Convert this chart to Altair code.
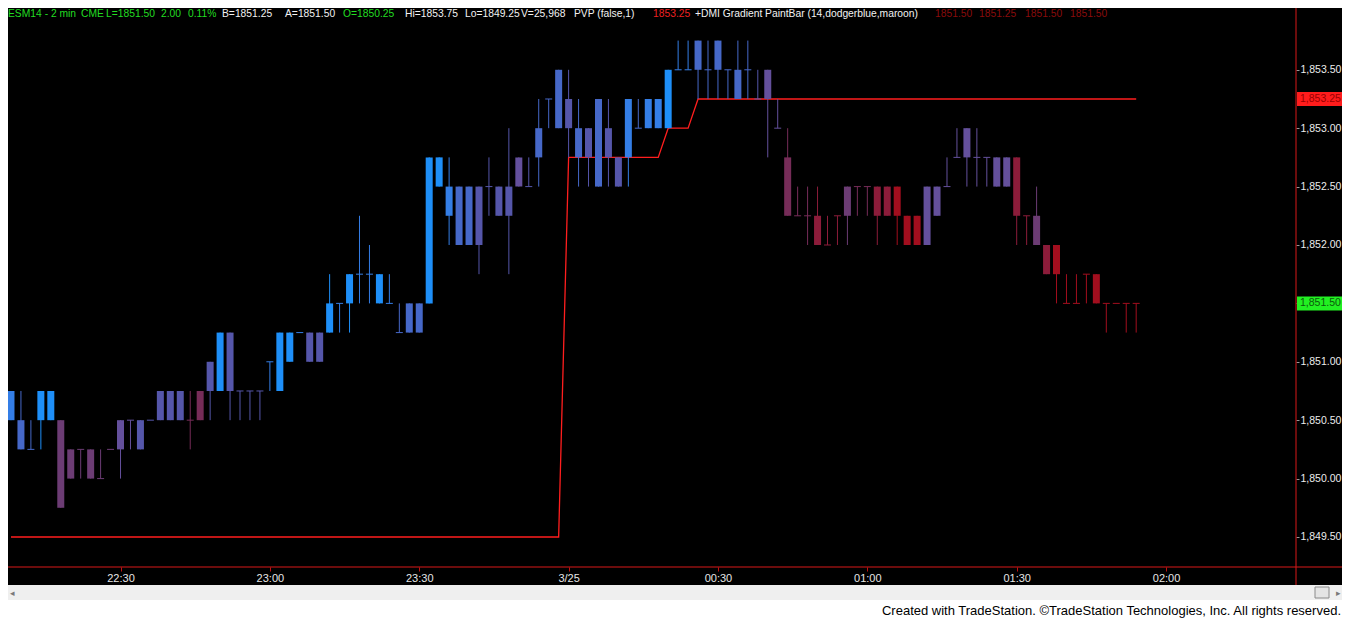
import json
import altair as alt
import pandas as pd

# ---------------- data (ESM14, 2-min bars, 22:08 -> 01:54) ----------------
opens = [
    1850.50, 1850.50, 1850.25, 1850.50, 1850.50, 1850.50, 1850.25, 1850.25, 1850.00, 1850.00,
    1850.25, 1850.25, 1850.50, 1850.25, 1850.50, 1850.50, 1850.75, 1850.50, 1850.50, 1850.75,
    1850.75, 1850.75, 1851.25, 1850.75, 1850.75, 1850.75, 1851.00, 1850.75, 1851.00, 1851.25,
    1851.25, 1851.00, 1851.25, 1851.50, 1851.50, 1851.75, 1851.75, 1851.75, 1851.50, 1851.25,
    1851.25, 1851.50, 1851.50, 1852.75, 1852.50, 1852.50, 1852.00, 1852.50, 1852.50, 1852.25,
    1852.50, 1852.50, 1852.50, 1852.75, 1853.25, 1853.00, 1853.25, 1853.00, 1852.75, 1852.50,
    1853.00, 1852.75, 1852.75, 1853.00, 1853.00, 1853.25, 1853.00, 1853.50, 1853.50, 1853.50,
    1853.50, 1853.75, 1853.50, 1853.25, 1853.50, 1853.25, 1853.50, 1853.00, 1852.75, 1852.25,
    1852.25, 1852.25, 1852.00, 1852.25, 1852.25, 1852.50, 1852.50, 1852.50, 1852.25, 1852.50,
    1852.25, 1852.25, 1852.00, 1852.25, 1852.50, 1852.75, 1852.75, 1852.75, 1852.75, 1852.75,
    1852.50, 1852.75, 1852.25, 1852.25, 1852.00, 1852.00, 1851.50, 1851.50, 1851.75, 1851.75,
    1851.50, 1851.50, 1851.50, 1851.50,
]
highs = [
    1850.75, 1850.75, 1850.50, 1850.75, 1850.75, 1850.50, 1850.25, 1850.25, 1850.25, 1850.25,
    1850.25, 1850.50, 1850.50, 1850.50, 1850.50, 1850.75, 1850.75, 1850.75, 1850.75, 1850.75,
    1851.00, 1851.25, 1851.25, 1850.75, 1850.75, 1850.75, 1851.00, 1851.25, 1851.25, 1851.25,
    1851.25, 1851.25, 1851.75, 1851.50, 1851.75, 1852.25, 1852.00, 1851.75, 1851.75, 1851.50,
    1851.50, 1851.50, 1852.75, 1852.75, 1852.75, 1852.50, 1852.50, 1852.50, 1852.75, 1852.50,
    1853.00, 1852.75, 1852.75, 1853.25, 1853.25, 1853.50, 1853.50, 1853.25, 1853.00, 1853.25,
    1853.25, 1852.75, 1853.25, 1853.25, 1853.25, 1853.25, 1853.50, 1853.75, 1853.75, 1853.75,
    1853.75, 1853.75, 1853.50, 1853.75, 1853.75, 1853.50, 1853.50, 1853.25, 1853.00, 1852.50,
    1852.50, 1852.50, 1852.25, 1852.25, 1852.50, 1852.50, 1852.50, 1852.50, 1852.50, 1852.50,
    1852.25, 1852.25, 1852.50, 1852.50, 1852.75, 1853.00, 1853.00, 1853.00, 1852.75, 1852.75,
    1852.75, 1852.75, 1852.25, 1852.50, 1852.00, 1852.00, 1851.75, 1851.75, 1851.75, 1851.75,
    1851.50, 1851.50, 1851.50, 1851.50,
]
lows = [
    1850.50, 1850.25, 1850.25, 1850.25, 1850.50, 1849.75, 1850.00, 1850.00, 1850.00, 1850.00,
    1850.25, 1850.00, 1850.25, 1850.25, 1850.50, 1850.50, 1850.50, 1850.50, 1850.25, 1850.50,
    1850.50, 1850.75, 1850.50, 1850.50, 1850.50, 1850.50, 1850.75, 1850.75, 1851.00, 1851.25,
    1851.00, 1851.00, 1851.25, 1851.25, 1851.25, 1851.50, 1851.50, 1851.50, 1851.50, 1851.25,
    1851.25, 1851.25, 1851.50, 1852.50, 1852.00, 1852.00, 1852.00, 1851.75, 1852.25, 1852.25,
    1851.75, 1852.50, 1852.50, 1852.50, 1853.00, 1853.00, 1852.75, 1852.50, 1852.50, 1852.50,
    1852.50, 1852.50, 1852.50, 1853.00, 1853.00, 1853.00, 1853.00, 1853.50, 1853.50, 1853.25,
    1853.25, 1853.25, 1853.25, 1853.25, 1853.25, 1853.25, 1852.75, 1853.00, 1852.25, 1852.25,
    1852.00, 1852.00, 1852.00, 1852.00, 1852.00, 1852.25, 1852.25, 1852.00, 1852.25, 1852.00,
    1852.00, 1852.00, 1852.00, 1852.25, 1852.50, 1852.75, 1852.50, 1852.50, 1852.50, 1852.50,
    1852.50, 1852.00, 1852.00, 1852.00, 1851.75, 1851.50, 1851.50, 1851.50, 1851.50, 1851.50,
    1851.25, 1851.50, 1851.25, 1851.25,
]
closes = [
    1850.75, 1850.25, 1850.25, 1850.75, 1850.75, 1849.75, 1850.00, 1850.25, 1850.25, 1850.00,
    1850.25, 1850.50, 1850.50, 1850.50, 1850.50, 1850.75, 1850.50, 1850.75, 1850.50, 1850.50,
    1851.00, 1851.25, 1850.75, 1850.75, 1850.75, 1850.75, 1851.00, 1851.25, 1851.25, 1851.25,
    1851.00, 1851.25, 1851.50, 1851.50, 1851.75, 1851.75, 1851.75, 1851.50, 1851.50, 1851.25,
    1851.50, 1851.25, 1852.75, 1852.50, 1852.25, 1852.00, 1852.50, 1852.00, 1852.50, 1852.50,
    1852.25, 1852.75, 1852.50, 1853.00, 1853.25, 1853.50, 1853.00, 1852.75, 1853.00, 1853.25,
    1852.75, 1852.50, 1853.25, 1853.00, 1853.25, 1853.00, 1853.50, 1853.50, 1853.50, 1853.75,
    1853.50, 1853.50, 1853.50, 1853.50, 1853.50, 1853.25, 1853.25, 1853.00, 1852.25, 1852.25,
    1852.25, 1852.00, 1852.00, 1852.25, 1852.50, 1852.50, 1852.50, 1852.25, 1852.50, 1852.25,
    1852.00, 1852.00, 1852.50, 1852.50, 1852.50, 1852.75, 1853.00, 1852.75, 1852.75, 1852.50,
    1852.75, 1852.25, 1852.25, 1852.00, 1851.75, 1851.75, 1851.50, 1851.50, 1851.75, 1851.50,
    1851.50, 1851.50, 1851.50, 1851.50,
]
# DMI gradient step of each bar: 0 = dodgerblue ... 8 = maroon
dmi_level = [
    1, 2, 2, 0, 0, 5, 5, 5, 5, 5,
    5, 4, 4, 3, 3, 3, 3, 3, 6, 6,
    3, 0, 3, 3, 3, 3, 1, 0, 0, 1,
    3, 3, 0, 1, 0, 1, 1, 0, 1, 2,
    2, 2, 0, 0, 1, 2, 2, 3, 3, 3,
    3, 4, 3, 2, 2, 2, 3, 2, 3, 2,
    3, 3, 1, 2, 1, 1, 0, 1, 1, 2,
    2, 2, 2, 2, 2, 3, 4, 4, 6, 6,
    6, 7, 7, 7, 5, 6, 6, 7, 7, 8,
    8, 8, 4, 4, 4, 4, 4, 4, 4, 4,
    4, 7, 7, 5, 7, 8, 8, 8, 8, 8,
    8, 8, 8, 8,
]
# PVP indicator line
pvp = [1849.50] * 56 + [1852.75] * 10 + [1853.00] * 3 + [1853.25] * 45

price_ticks = [1849.5, 1850.0, 1850.5, 1851.0, 1851.5, 1852.0, 1852.5, 1853.0, 1853.5]
time_tick_values = [30, 60, 90, 120, 150, 180, 210, 240]          # minutes after 22:00
time_tick_labels = ["22:30", "23:00", "23:30", "3/25", "00:30", "01:00", "01:30", "02:00"]

last_price = 1851.50
pvp_last = 1853.25

header_texts = ["ESM14 - 2 min", "CME", "L=1851.50", "2.00", "0.11%", "B=1851.25", "A=1851.50",
                "O=1850.25", "Hi=1853.75", "Lo=1849.25", "V=25,968", "PVP (false,1)", "1853.25",
                "+DMI Gradient PaintBar (14,dodgerblue,maroon)", "1851.50", "1851.25", "1851.50", "1851.50"]
footer_text = "Created with TradeStation. \u00a9TradeStation Technologies, Inc. All rights reserved."

# ---------------- layout / style ----------------
GREEN, WHITE, RED, DRED = "#22dd22", "#f2f2f2", "#ee2020", "#8a0c0c"
header_colors = [GREEN, GREEN, GREEN, GREEN, GREEN, WHITE, WHITE, GREEN, WHITE, WHITE, WHITE,
                 WHITE, RED, WHITE, DRED, DRED, DRED, DRED]
header_x = [3, 81, 106, 161, 188, 222, 285, 343, 405, 465, 521, 574, 653, 695, 935, 979, 1025, 1070]

palette = ["#1e8ff8", "#347ee6", "#4668c8", "#5556aa", "#64509c",
           "#6c3c74", "#762c58", "#8c1c3a", "#a20e1e"]

W, H = 1288, 559
RP, BP = 46, 53
FONT = "Liberation Sans"

n = len(opens)
minutes = [8 + 2 * i for i in range(n)]   # bar timestamps: 22:08 + 2 min per bar

df = pd.DataFrame(dict(t=minutes, o=opens, h=highs, l=lows, c=closes, lvl=dmi_level, pvp=pvp))

xscale = alt.Scale(domain=[7.4, 266.1], nice=False, zero=False)
yscale = alt.Scale(domain=[1849.243, 1854.029], nice=False, zero=False)

label_expr = f"{json.dumps(time_tick_labels)}[indexof({json.dumps(time_tick_values)}, datum.value)]"
xaxis = alt.Axis(values=time_tick_values, labelExpr=label_expr, labelColor="#e6e6e6",
                 labelFont=FONT, labelFontSize=11, tickColor="#c01010", tickSize=4,
                 labelPadding=1, domain=False, grid=False, title=None, labelFlush=False)
yaxis = alt.Axis(orient="right", values=price_ticks, format=",.2f", labelColor="#ececec",
                 labelFont=FONT, labelFontSize=10.5, tickColor="#9a9a9a", tickSize=3,
                 labelPadding=1, domain=False, grid=False, title=None)


def X(field):
    return alt.X(field, type="quantitative", scale=xscale, axis=xaxis)


def Y(field):
    return alt.Y(field, type="quantitative", scale=yscale, axis=yaxis)


color = alt.Color("lvl:O", scale=alt.Scale(domain=list(range(9)), range=palette), legend=None)

base = alt.Chart(df)

wicks = base.mark_rule(strokeWidth=1).encode(x=X("t"), y=Y("l"), y2="h:Q", color=color)
bodies = base.transform_filter("datum.o != datum.c").mark_rect(
    xOffset=-3.5, x2Offset=3.5).encode(x=X("t"), x2="t:Q", y=Y("o"), y2="c:Q", color=color)
dojis = base.transform_filter("datum.o == datum.c").mark_rule(
    strokeWidth=1, xOffset=-3.5, x2Offset=3.5).encode(x=X("t"), x2="t:Q", y=Y("o"), color=color)
pvp_line = base.mark_line(color="#ff1e1e", strokeWidth=1.3).encode(x=X("t"), y=Y("pvp"))

one = pd.DataFrame({"a": [0]})
frame_v = alt.Chart(one).mark_rule(color="#d81818", strokeWidth=1).encode(
    x=alt.value(W), y=alt.value(0), y2=alt.value(H + 18))
frame_h = alt.Chart(one).mark_rule(color="#d81818", strokeWidth=1).encode(
    x=alt.value(0), x2=alt.value(W + RP), y=alt.value(H))

marker_df = pd.DataFrame({"p": [pvp_last, last_price],
                          "bg": ["#ff1c1c", "#22f022"],
                          "fg": ["#9a0000", "#0b5a0b"]})
marker_box = alt.Chart(marker_df).mark_rect(yOffset=-7, y2Offset=7).encode(
    x=alt.value(W + 1), x2=alt.value(W + RP), y=Y("p"), y2="p:Q",
    color=alt.Color("bg:N", scale=None))
marker_txt = alt.Chart(marker_df).mark_text(align="left", baseline="middle", font=FONT,
                                            fontSize=10.5).encode(
    x=alt.value(W + 4), y=Y("p"), text=alt.Text("p:Q", format=",.2f"),
    color=alt.Color("fg:N", scale=None))

header_layers = []
for txt, col, px in zip(header_texts, header_colors, header_x):
    header_layers.append(
        alt.Chart(one).mark_text(text=txt, color=col, align="left", baseline="top",
                                 font=FONT, fontSize=10.3).encode(
            x=alt.value(max(px - 8, 0)), y=alt.value(1)))

scroll_bg = alt.Chart(one).mark_rect(color="#efefef").encode(
    x=alt.value(0), x2=alt.value(W + RP), y=alt.value(H + 18), y2=alt.value(H + 33))
scroll_thumb = alt.Chart(one).mark_rect(color="#e4e4e4", stroke="#8a8a8a", strokeWidth=1).encode(
    x=alt.value(1307), x2=alt.value(1321), y=alt.value(H + 20), y2=alt.value(H + 31))
scroll_left = alt.Chart(one).mark_text(text="\u25c2", color="#7a7a7a", fontSize=9,
                                       align="center", baseline="middle").encode(
    x=alt.value(4), y=alt.value(H + 26))
scroll_right = alt.Chart(one).mark_text(text="\u25b8", color="#7a7a7a", fontSize=9,
                                        align="center", baseline="middle").encode(
    x=alt.value(1330), y=alt.value(H + 26))
footer_bg = alt.Chart(one).mark_rect(color="white").encode(
    x=alt.value(0), x2=alt.value(W + RP), y=alt.value(H + 33), y2=alt.value(H + BP))
footer = alt.Chart(one).mark_text(text=footer_text, color="#000000", align="right",
                                  baseline="middle", font=FONT, fontSize=13).encode(
    x=alt.value(W + RP - 1), y=alt.value(H + 44))

chart = alt.layer(
    pvp_line, wicks, bodies, dojis, frame_v, frame_h, marker_box, marker_txt,
    scroll_bg, scroll_thumb, scroll_left, scroll_right, footer_bg, footer,
    *header_layers
).properties(
    width=W, height=H, background="black",
    padding={"left": 0, "top": 0, "right": RP, "bottom": BP},
    autosize=alt.AutoSizeParams(type="none"),
).configure_view(strokeWidth=0, fill="black")

chart.save("out.html", embed_options={"renderer": "svg", "actions": False})
